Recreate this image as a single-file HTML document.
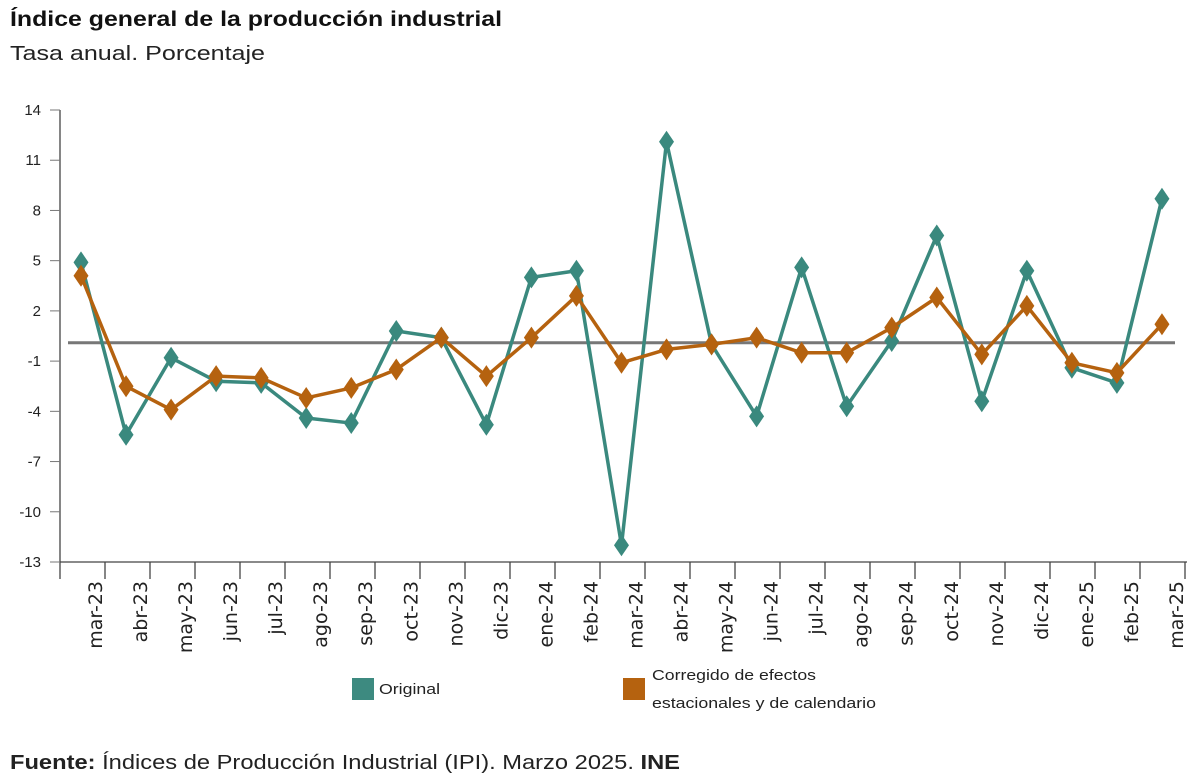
<!DOCTYPE html>
<html><head><meta charset="utf-8"><style>
body{margin:0;background:#fff;font-family:"Liberation Sans",sans-serif;}
svg{display:block}
</style></head><body>
<svg width="1199" height="779" xmlns="http://www.w3.org/2000/svg" font-family="Liberation Sans, sans-serif">
<text x="10" y="26" font-size="21" font-weight="bold" fill="#111" textLength="492" lengthAdjust="spacingAndGlyphs">Índice general de la producción industrial</text>
<text x="10" y="60" font-size="20" fill="#222" textLength="255" lengthAdjust="spacingAndGlyphs">Tasa anual. Porcentaje</text>
<g id="yaxis"></g>
<g id="xaxis"></g>
<g id="plot"></g>
<rect x="352" y="678" width="22" height="22" fill="#3d8a80"/>
<text x="379" y="694" font-size="15" fill="#222" textLength="61" lengthAdjust="spacingAndGlyphs">Original</text>
<rect x="623" y="678" width="22" height="22" fill="#b5620f"/>
<text x="652" y="680" font-size="15" fill="#222"><tspan x="652" textLength="164" lengthAdjust="spacingAndGlyphs">Corregido de efectos</tspan><tspan x="652" dy="28" textLength="224" lengthAdjust="spacingAndGlyphs">estacionales y de calendario</tspan></text>
<text x="10" y="769" font-size="20" fill="#222" textLength="670" lengthAdjust="spacingAndGlyphs"><tspan font-weight="bold">Fuente:</tspan> Índices de Producción Industrial (IPI).  Marzo 2025. <tspan font-weight="bold">INE</tspan></text>
</svg>
<script>
const categories=["mar-23","abr-23","may-23","jun-23","jul-23","ago-23","sep-23","oct-23","nov-23","dic-23","ene-24","feb-24","mar-24","abr-24","may-24","jun-24","jul-24","ago-24","sep-24","oct-24","nov-24","dic-24","ene-25","feb-25","mar-25"];
const original=[4.9,-5.4,-0.8,-2.2,-2.3,-4.4,-4.7,0.8,0.4,-4.8,4.0,4.4,-12.0,12.1,0.0,-4.3,4.6,-3.7,0.2,6.5,-3.4,4.4,-1.4,-2.3,8.7];
const corregido=[4.1,-2.5,-3.9,-1.9,-2.0,-3.2,-2.6,-1.5,0.4,-1.9,0.4,2.9,-1.1,-0.3,0.0,0.4,-0.5,-0.5,1.0,2.8,-0.6,2.3,-1.1,-1.7,1.2];
const yTicks=[14,11,8,5,2,-1,-4,-7,-10,-13];
const refLine=0.1;
const NS="http://www.w3.org/2000/svg";
const yMin=-13,yMax=14,plotTop=110,plotBot=562,plotLeft=60,plotRight=1187;
const ys=v=>plotTop+(yMax-v)*(plotBot-plotTop)/(yMax-yMin);
const xs=i=>81+i*45.04;
function mk(tag,attrs,parent){const e=document.createElementNS(NS,tag);for(const k in attrs)e.setAttribute(k,attrs[k]);parent.appendChild(e);return e;}
const ya=document.getElementById('yaxis'),xa=document.getElementById('xaxis'),pl=document.getElementById('plot');
const yl=mk('line',{x1:plotLeft,y1:plotTop,x2:plotLeft,y2:plotBot+17,stroke:'#444','stroke-width':1.3},ya);


yTicks.forEach(t=>{
 const tl=mk('line',{x1:plotLeft-10,y1:ys(t),x2:plotLeft,y2:ys(t),stroke:'#777'},ya);
 
 
 const tx=mk('text',{x:41,y:ys(t)+5,'font-size':15,'text-anchor':'end',fill:'#222'},ya);
 tx.textContent=t;
 
 
});
const xl=mk('line',{x1:plotLeft,y1:plotBot,x2:plotRight,y2:plotBot,stroke:'#444','stroke-width':1.3},xa);


categories.forEach((c,i)=>{
 const bx=plotLeft+(i+1)*45;
 const tk=mk('line',{x1:bx,y1:plotBot,x2:bx,y2:plotBot+17,stroke:'#444','stroke-width':1.3},xa);
 
 
 const tx=mk('text',{x:0,y:0,'font-size':19,'font-family':'DejaVu Sans, sans-serif','text-anchor':'end',fill:'#222',transform:`translate(${xs(i)+21},581) rotate(-90)`},xa);
 tx.textContent=c;
 
 
});
const zl=mk('line',{x1:68,y1:ys(refLine),x2:1175,y2:ys(refLine),stroke:'#777','stroke-width':3},pl);


function series(vals,color,name){
 const p=mk('polyline',{points:vals.map((v,i)=>xs(i)+','+ys(v)).join(' '),fill:'none',stroke:color,'stroke-width':3.5,'stroke-linejoin':'round'},pl);
 
 
 vals.forEach((v,i)=>{
  const cx=xs(i),cy=ys(v);
  const d=mk('polygon',{points:`${cx},${cy-11} ${cx+7.5},${cy} ${cx},${cy+11} ${cx-7.5},${cy}`,fill:color},pl);
  
  
 });
}
series(original,'#3a897e','original');
series(corregido,'#b5620f','corregido');
</script>
</body></html>
